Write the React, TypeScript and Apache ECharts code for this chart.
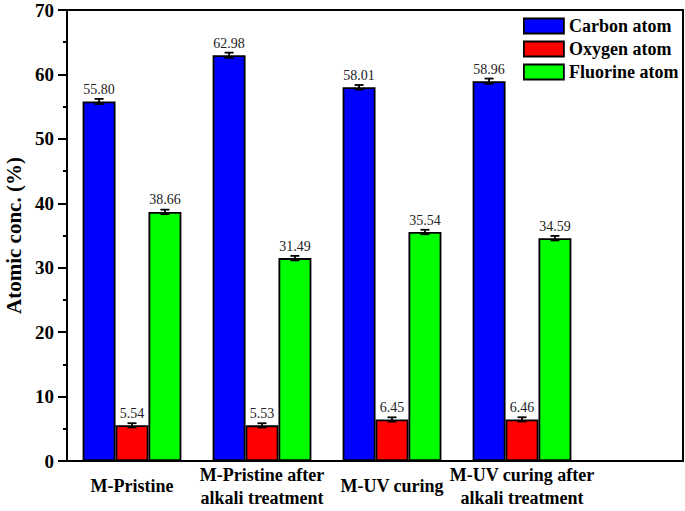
import React, { useEffect, useRef } from "react";
import * as echarts from "echarts";

const categories = [
  "M-Pristine",
  "M-Pristine after\nalkali treatment",
  "M-UV curing",
  "M-UV curing after\nalkali treatment",
];
const seriesNames = ["Carbon atom", "Oxygen atom", "Fluorine atom"];
const carbon = [55.8, 62.98, 58.01, 58.96];
const oxygen = [5.54, 5.53, 6.45, 6.46];
const fluorine = [38.66, 31.49, 35.54, 34.59];
const carbonErr = [0.4, 0.4, 0.35, 0.4];
const oxygenErr = [0.33, 0.33, 0.33, 0.33];
const fluorineErr = [0.35, 0.35, 0.35, 0.35];
const yTicks = [0, 10, 20, 30, 40, 50, 60, 70];

const colors = ["#0000FF", "#FF0000", "#00FF00"];
const FONT = "'Times New Roman', 'Liberation Serif', serif";

export default function App() {
  const ref = useRef<HTMLDivElement>(null);
  useEffect(() => {
    if (!ref.current) return;
    const chart = echarts.init(ref.current, undefined, { renderer: "svg" });
    const values = [carbon, oxygen, fluorine];
    const errs = [carbonErr, oxygenErr, fluorineErr];
    const barCategoryGap = 0.24;

    const barSeries = values.map((vals, k) => ({
      name: seriesNames[k],
      type: "bar",
      xAxisIndex: 1,
      yAxisIndex: 1,
      data: vals,
      barGap: "0%",
      barCategoryGap: barCategoryGap * 100 + "%",
      itemStyle: { color: colors[k], borderColor: "#000", borderWidth: 1.8 },
      label: {
        show: true,
        position: "top",
        distance: 5,
        formatter: (p: any) => Number(p.value).toFixed(2),
        fontFamily: FONT,
        fontSize: 14,
        color: "#222",
      },
      z: 2,
    }));

    const errSeries = values.map((vals, k) => ({
      type: "custom",
      xAxisIndex: 1,
      yAxisIndex: 1,
      silent: true,
      z: 5,
      data: vals.map((v, i) => [i, v - errs[k][i], v + errs[k][i]]),
      renderItem: (params: any, api: any) => {
        const i = api.value(0);
        const lo = api.coord([i, api.value(1)]);
        const hi = api.coord([i, api.value(2)]);
        const band = api.size([1, 0])[0];
        const bw = (band * (1 - barCategoryGap)) / 3;
        const x = lo[0] + bw * (k - 1);
        const cap = 4.5;
        const st = { stroke: "#000", lineWidth: 1.8 };
        return {
          type: "group",
          children: [
            { type: "line", shape: { x1: x, y1: lo[1], x2: x, y2: hi[1] }, style: st },
            { type: "line", shape: { x1: x - cap, y1: lo[1], x2: x + cap, y2: lo[1] }, style: st },
            { type: "line", shape: { x1: x - cap, y1: hi[1], x2: x + cap, y2: hi[1] }, style: st },
          ],
        };
      },
    }));

    const option: any = {
      animation: false,
      backgroundColor: "#fff",
      grid: [
        {
          left: 67,
          top: 10,
          width: 616,
          height: 451,
          show: true,
          borderColor: "#000",
          borderWidth: 2,
          backgroundColor: "transparent",
          containLabel: false,
          outerBoundsMode: "none",
        },
        {
          left: 67,
          top: 10,
          width: 520,
          height: 451,
          containLabel: false,
          outerBoundsMode: "none",
        },
      ],
      legend: {
        orient: "vertical",
        left: 523,
        top: 17,
        padding: 0,
        itemWidth: 40,
        itemHeight: 15,
        itemGap: 5,
        icon: "rect",
        data: seriesNames,
        textStyle: {
          fontFamily: FONT,
          fontSize: 18,
          fontWeight: "bold",
          color: "#000",
        },
        itemStyle: { borderColor: "#000", borderWidth: 1.8 },
      },
      xAxis: [
        {
          type: "value",
          gridIndex: 0,
          min: 0,
          max: 1,
          show: false,
        },
        {
          type: "category",
          gridIndex: 1,
          data: categories,
          axisLine: { show: false },
          axisTick: { show: false },
          axisLabel: {
            interval: 0,
            margin: 25,
            verticalAlign: "middle",
            lineHeight: 23,
            fontFamily: FONT,
            fontSize: 18,
            fontWeight: "bold",
            color: "#000",
          },
        },
      ],
      yAxis: [
        {
          type: "value",
          gridIndex: 0,
          min: yTicks[0],
          max: yTicks[yTicks.length - 1],
          interval: 10,
          name: "Atomic conc. (%)",
          nameLocation: "middle",
          nameGap: 42,
          nameTextStyle: {
            fontFamily: FONT,
            fontSize: 21,
            fontWeight: "bold",
            color: "#000",
          },
          axisLine: { show: true, lineStyle: { color: "#000", width: 2 } },
          axisTick: { show: true, inside: false, length: 9, lineStyle: { color: "#000", width: 2 } },
          minorTick: { show: true, splitNumber: 2, length: 4, lineStyle: { color: "#000", width: 2 } },
          splitLine: { show: false },
          axisLabel: {
            margin: 13,
            fontFamily: FONT,
            fontSize: 19,
            fontWeight: "bold",
            color: "#000",
          },
        },
        {
          type: "value",
          gridIndex: 1,
          min: yTicks[0],
          max: yTicks[yTicks.length - 1],
          show: false,
        },
      ],
      series: [...barSeries, ...errSeries],
    };
    chart.setOption(option);
    return () => chart.dispose();
  }, []);
  return (
    <div
      ref={ref}
      style={{ position: "fixed", left: 0, top: 0, width: 685, height: 511 }}
    />
  );
}
